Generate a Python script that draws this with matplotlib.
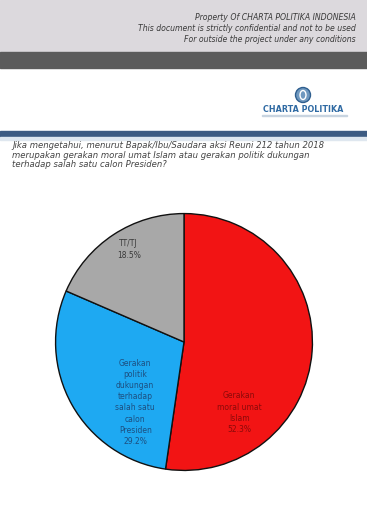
import matplotlib
matplotlib.use("Agg")
import matplotlib.pyplot as plt
from matplotlib.patches import Rectangle, Ellipse

# ---- data ----
categories = ["Gerakan\nmoral umat\nIslam", "Gerakan\npolitik\ndukungan\nterhadap\nsalah satu\ncalon\nPresiden", "TT/TJ"]
values = [52.3, 29.2, 18.5]
colors = ["#f21414", "#1ea9f2", "#a8a8a8"]
label_colors = ["#8a0a0a", "#1d4f80", "#3a3a3a"]
label_pos = [(0.43, -0.55), (-0.38, -0.47), (-0.43, 0.72)]  # label placement (axes data units)

header_lines = ["Property Of CHARTA POLITIKA INDONESIA",
                "This document is strictly confidential and not to be used",
                "For outside the project under any conditions"]
question = ("Jika mengetahui, menurut Bapak/Ibu/Saudara aksi Reuni 212 tahun 2018\n"
            "merupakan gerakan moral umat Islam atau gerakan politik dukungan\n"
            "terhadap salah satu calon Presiden?")

W, H = 367, 528
fig = plt.figure(figsize=(W / 100, H / 100), dpi=100)
fig.patch.set_facecolor("white")

def fy(y):
    return 1 - y / H

# header bands
fig.add_artist(Rectangle((0, fy(52)), 1, 52 / H, transform=fig.transFigure, color="#dcd9dd", zorder=0))
fig.add_artist(Rectangle((0, fy(68)), 1, 16 / H, transform=fig.transFigure, color="#5b5b5b", zorder=0))
fig.add_artist(Rectangle((0, fy(137)), 1, 6 / H, transform=fig.transFigure, color="#3d5b82", zorder=0))
fig.add_artist(Rectangle((0, fy(140)), 1, 3 / H, transform=fig.transFigure, color="#dfe7ef", zorder=0))

for i, line in enumerate(header_lines):
    fig.text(356 / W, fy(17 + i * 11.5), line, ha="right", va="center",
             fontsize=5.6, style="italic", color="#3a3a3a")

# logo
fig.add_artist(Ellipse((303 / W, fy(95)), 15 / W, 15 / H, transform=fig.transFigure,
                       facecolor="#6f98bf", edgecolor="#2f5f8f", lw=1))
fig.add_artist(Ellipse((303 / W, fy(95)), 6 / W, 9 / H, transform=fig.transFigure,
                       facecolor="none", edgecolor="white", lw=1))
fig.text(303 / W, fy(110), "CHARTA POLITIKA", ha="center", va="center",
         fontsize=5.8, weight="bold", color="#2f6aa3")
fig.add_artist(Rectangle((262 / W, fy(116)), 85 / W, 1.2 / H, transform=fig.transFigure,
                         color="#c8d4e0"))

# question
fig.text(12 / W, fy(141), question, ha="left", va="top", fontsize=6.1,
         style="italic", color="#444444", linespacing=1.1)

# pie
cx, cy, r = 184, 342, 131
ax = fig.add_axes([(cx - r) / W, 1 - (cy + r) / H, 2 * r / W, 2 * r / H])
wedges, _ = ax.pie(values, colors=colors, startangle=90, counterclock=False,
                   wedgeprops=dict(edgecolor="#111111", linewidth=1.0))
ax.set_xlim(-1.02, 1.02)
ax.set_ylim(-1.02, 1.02)
ax.set_aspect("equal")
ax.axis("off")

for cat, v, (x, y), c in zip(categories, values, label_pos, label_colors):
    ax.text(x, y, f"{cat}\n{v:.1f}%", ha="center", va="center", fontsize=5.5,
            color=c, linespacing=1.3)

fig.savefig("out.png", dpi=100)
